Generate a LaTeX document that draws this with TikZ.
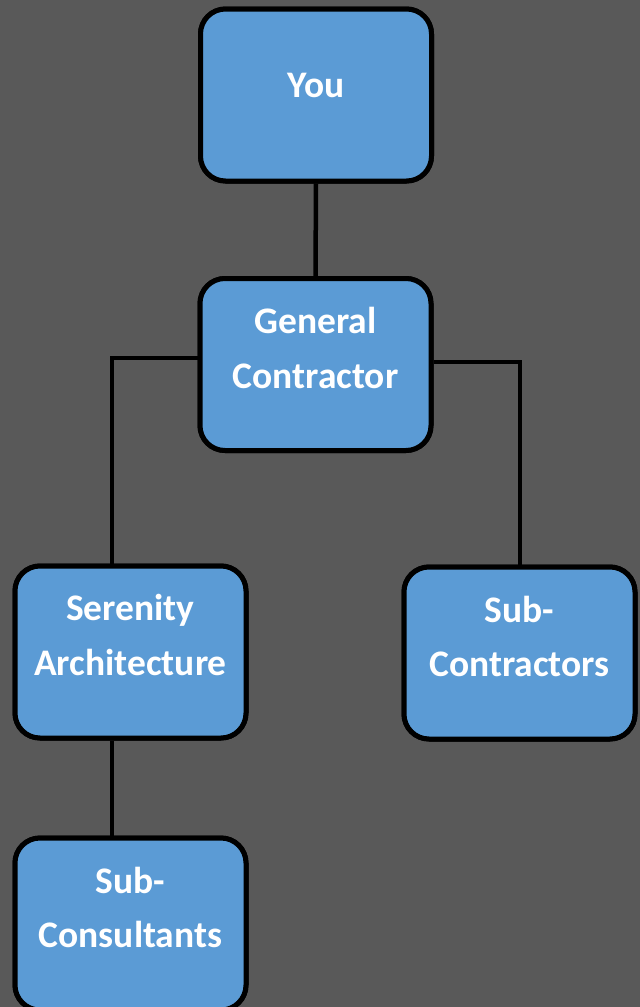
\documentclass[tikz,border=0pt]{standalone}
\usepackage{fontspec}
\setmainfont{Carlito}
\definecolor{bgc}{HTML}{595959}
\definecolor{boxc}{HTML}{5B9BD5}
\begin{document}
\begin{tikzpicture}[x=1pt,y=-1pt,
  box/.style={draw=black,line width=5pt,fill=boxc,rounded corners=25pt,
    minimum width=231pt,minimum height=172pt,inner sep=0pt},
  lbl/.style={anchor=base,text=white,font=\fontsize{37.5}{54}\selectfont\bfseries,inner sep=0pt},
  conn/.style={draw=black,line width=4.5pt}]
\fill[bgc] (0,0) rectangle (640,1007);
\useasboundingbox (0,0) rectangle (640,1007);
\node[box] (you) at (316,95) {};
\node[box] (gc) at (315.5,364.5) {};
\node[box] (ser) at (130.5,652) {};
\node[box] (subc) at (519.5,653) {};
\node[box] (subk) at (130.5,924) {};
% connectors
\coordinate (gcl) at (112,358);
\coordinate (gcr) at (520,362);
\draw[conn] (you.south) -- (gc.north);
\draw[conn] (gc.west |- gcl) -- (gcl) -- (gcl |- ser.north);
\draw[conn] (gc.east |- gcr) -- (gcr) -- (gcr |- subc.north);
\draw[conn] (ser.south -| gcl) -- (subk.north -| gcl);
% redraw boxes on top of connectors
\node[box] at (you) {};
\node[box] at (gc) {};
\node[box] at (ser) {};
\node[box] at (subc) {};
\node[box] at (subk) {};
% labels
\node[lbl] (t1) at (316,97) {You};
\node[lbl] (t2) at (315.5,333) {General};
\node[lbl] (t3) at (315.5,388) {Contractor};
\node[lbl] (t4) at (130.5,620) {Serenity};
\node[lbl] (t5) at (130.5,675) {Architecture};
\node[lbl] (t6) at (519.5,622) {Sub-};
\node[lbl] (t7) at (519.5,676) {Contractors};
\node[lbl] (t8) at (130.5,893) {Sub-};
\node[lbl] (t9) at (130.5,947) {Consultants};
\end{tikzpicture}
\end{document}
